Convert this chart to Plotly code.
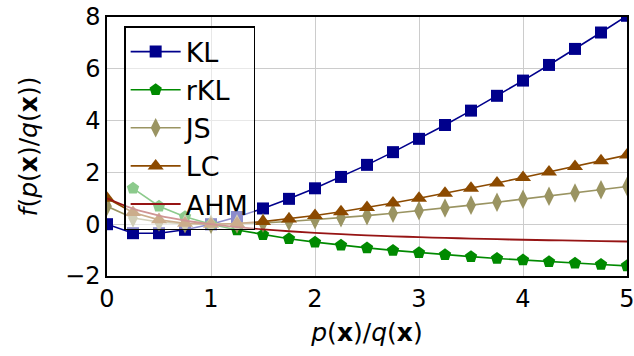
import plotly.graph_objects as go

x = [0, 0.25, 0.5, 0.75, 1, 1.25, 1.5, 1.75, 2, 2.25, 2.5, 2.75, 3,
     3.25, 3.5, 3.75, 4, 4.25, 4.5, 4.75, 5]

kl = [0, -0.347, -0.347, -0.216, 0, 0.279, 0.608, 0.979, 1.386, 1.825, 2.291,
      2.782, 3.296, 3.831, 4.385, 4.957, 5.545, 6.149, 6.768, 7.401, 8.047]
x_rkl = x[1:]
rkl = [1.386, 0.693, 0.288, 0, -0.223, -0.405, -0.560, -0.693, -0.811, -0.916,
       -1.012, -1.099, -1.179, -1.253, -1.322, -1.386, -1.447, -1.504, -1.558, -1.609]
js = [0.693, 0.241, 0.085, 0.018, 0, 0.014, 0.050, 0.103, 0.170, 0.247, 0.332,
      0.425, 0.523, 0.627, 0.736, 0.848, 0.964, 1.082, 1.204, 1.328, 1.455]
lc = [1, 0.45, 0.167, 0.036, 0, 0.028, 0.1, 0.205, 0.333, 0.481, 0.643,
      0.817, 1.0, 1.191, 1.389, 1.592, 1.8, 2.012, 2.227, 2.446, 2.667]
ahm = [1, 0.6, 0.333, 0.143, 0, -0.111, -0.2, -0.273, -0.333, -0.385, -0.429,
       -0.467, -0.5, -0.529, -0.556, -0.579, -0.6, -0.619, -0.636, -0.652, -0.667]

FONT = "DejaVu Sans"

fig = go.Figure()
fig.add_trace(go.Scatter(x=x, y=kl, name="KL", mode="lines+markers",
                         line=dict(color="#00008c", width=1.6),
                         marker=dict(symbol="square", size=12, color="#00008c")))
fig.add_trace(go.Scatter(x=x_rkl, y=rkl, name="rKL", mode="lines+markers",
                         line=dict(color="#008a00", width=1.6),
                         marker=dict(symbol="pentagon", size=13, color="#008a00")))
fig.add_trace(go.Scatter(x=x, y=js, name="JS", mode="lines+markers",
                         line=dict(color="#9a9462", width=1.6),
                         marker=dict(symbol="diamond-tall", size=14, color="#9a9462")))
fig.add_trace(go.Scatter(x=x, y=lc, name="LC", mode="lines+markers",
                         line=dict(color="#8c4a00", width=1.6),
                         marker=dict(symbol="triangle-up", size=14, color="#8c4a00")))
fig.add_trace(go.Scatter(x=x, y=ahm, name="AHM", mode="lines",
                         line=dict(color="#961414", width=1.8, shape="spline")))

fig.update_layout(
    width=634, height=356,
    margin=dict(l=107, r=7, t=17, b=80),
    paper_bgcolor="white", plot_bgcolor="white",
    font=dict(family=FONT, size=24, color="black"),
    showlegend=True,
    legend=dict(x=0.033, y=0.965, xanchor="left", yanchor="top",
                bgcolor="rgba(255,255,255,0.55)", bordercolor="black", borderwidth=1.5,
                font=dict(size=27), itemwidth=50, tracegroupgap=0),
    xaxis=dict(range=[0, 5], tickvals=[0, 1, 2, 3, 4, 5], showgrid=True,
               gridcolor="#cccccc", gridwidth=1, zeroline=False, showline=True,
               linecolor="black", linewidth=1.5, mirror=True, ticks="", automargin=False,
               ticklabeloverflow="allow",
               title=dict(text="<i>p</i>(<b>x</b>)/<i>q</i>(<b>x</b>)", font=dict(size=25), standoff=12)),
    yaxis=dict(range=[-2, 8], tickvals=[-2, 0, 2, 4, 6, 8], showgrid=True,
               gridcolor="#cccccc", gridwidth=1, zeroline=False, showline=True,
               linecolor="black", linewidth=1.5, mirror=True, ticks="", automargin=False,
               ticklabeloverflow="allow",
               title=dict(text="<i>f</i>(<i>p</i>(<b>x</b>)/<i>q</i>(<b>x</b>))", font=dict(size=25), standoff=20)),
)

fig.write_html("out.html", config={"displayModeBar": False},
               post_script="document.body.style.margin='0';")
